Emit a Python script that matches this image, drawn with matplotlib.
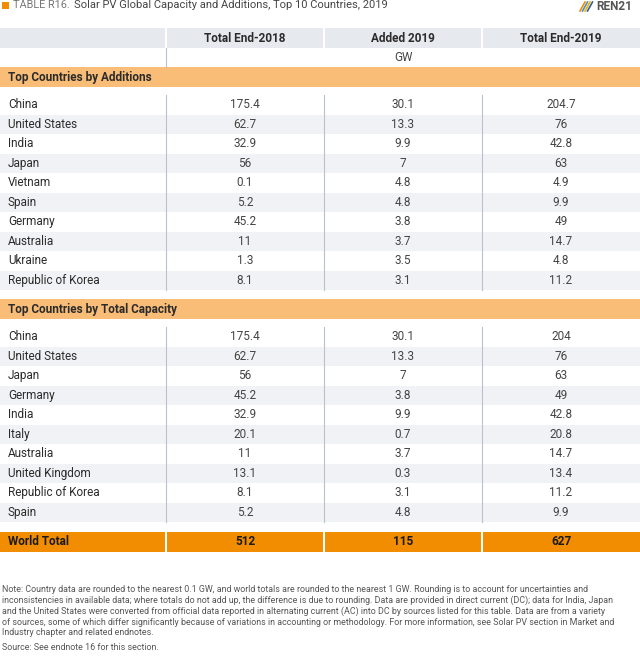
import matplotlib.pyplot as plt
from matplotlib.patches import Rectangle

plt.rcParams["font.family"] = ["Roboto", "DejaVu Sans"]

add_countries = ["China", "United States", "India", "Japan", "Vietnam", "Spain",
                 "Germany", "Australia", "Ukraine", "Republic of Korea"]
add_2018 = ["175.4", "62.7", "32.9", "56", "0.1", "5.2", "45.2", "11", "1.3", "8.1"]
add_added = ["30.1", "13.3", "9.9", "7", "4.8", "4.8", "3.8", "3.7", "3.5", "3.1"]
add_2019 = ["204.7", "76", "42.8", "63", "4.9", "9.9", "49", "14.7", "4.8", "11.2"]

tot_countries = ["China", "United States", "Japan", "Germany", "India", "Italy",
                 "Australia", "United Kingdom", "Republic of Korea", "Spain"]
tot_2018 = ["175.4", "62.7", "56", "45.2", "32.9", "20.1", "11", "13.1", "8.1", "5.2"]
tot_added = ["30.1", "13.3", "7", "3.8", "9.9", "0.7", "3.7", "0.3", "3.1", "4.8"]
tot_2019 = ["204", "76", "63", "49", "42.8", "20.8", "14.7", "13.4", "11.2", "9.9"]

world = ["512", "115", "627"]
columns = ["Total End-2018", "Added 2019", "Total End-2019"]

note = ("Note: Country data are rounded to the nearest 0.1 GW, and world totals are rounded to the nearest 1 GW. Rounding is to account for uncertainties and\n"
        "inconsistencies in available data; where totals do not add up, the difference is due to rounding. Data are provided in direct current (DC); data for India, Japan\n"
        "and the United States were converted from official data reported in alternating current (AC) into DC by sources listed for this table. Data are from a variety\n"
        "of sources, some of which differ significantly because of variations in accounting or methodology. For more information, see Solar PV section in Market and\n"
        "Industry chapter and related endnotes.")

W, H = 640, 656
fig = plt.figure(figsize=(W / 100, H / 100), dpi=100)
ax = fig.add_axes([0, 0, 1, 1])
ax.set_xlim(0, W)
ax.set_ylim(H, 0)
ax.axis("off")

GRAY = "#e6e9ee"
LINE = "#b8c2ce"
TXT = "#2b2b2b"
FS = 8.5
divs = [166, 324, 482]
centers = [245, 403, 561]
RH = 19.5

# title
ax.add_patch(Rectangle((2, 1.5), 7, 7, color="#f28c00", lw=0))
ax.text(13, 5.5, "TABLE R16.", fontsize=7.8, color="#777777", va="center")
ax.text(74, 5.5, "Solar PV Global Capacity and Additions, Top 10 Countries, 2019",
        fontsize=8, color="#444444", va="center")
for i, c in enumerate(["#f28c00", "#4a90c8", "#f2b400", "#2f5f9e"]):
    ax.plot([580 + i * 2.5, 585 + i * 2.5], [11, 2], color=c, lw=1.2)
ax.text(596, 6.5, "REN21", fontsize=8.5, color="#555555", va="center", weight="bold")

# header
ax.add_patch(Rectangle((0, 28), W, 20, color=GRAY, lw=0))
for x in divs:
    ax.plot([x, x], [28, 48], color="white", lw=1.5)
for cx, lab in zip(centers, columns):
    ax.text(cx, 38.5, lab, ha="center", va="center", fontsize=FS, weight="bold", color=TXT)
ax.text(403, 57.5, "GW", ha="center", va="center", fontsize=FS, color="#444444")
ax.plot([166, 166], [48, 67], color=LINE, lw=0.8)


def section(y0, title, names, a, b, c):
    ax.add_patch(Rectangle((0, y0), W, 20, color="#f9bd78", lw=0))
    ax.text(8, y0 + 10, title, va="center", fontsize=FS, weight="bold", color=TXT)
    start = y0 + 28
    for i, name in enumerate(names):
        top = start + i * RH
        if i % 2 == 1:
            ax.add_patch(Rectangle((0, top), W, RH, color=GRAY, lw=0, alpha=0.55))
        yc = top + RH / 2
        ax.text(8, yc, name, va="center", fontsize=FS, color=TXT)
        for cx, v in zip(centers, (a[i], b[i], c[i])):
            ax.text(cx, yc, v, ha="center", va="center", fontsize=FS, color="#444444")
    for x in divs:
        ax.plot([x, x], [start, start + len(names) * RH], color=LINE, lw=0.8)


section(67, "Top Countries by Additions", add_countries, add_2018, add_added, add_2019)
section(299, "Top Countries by Total Capacity", tot_countries, tot_2018, tot_added, tot_2019)

# world total
ax.add_patch(Rectangle((0, 532), W, 19.5, color="#f28c00", lw=0))
for x in divs:
    ax.plot([x, x], [532, 551.5], color="white", lw=1.5)
ax.text(8, 541.5, "World Total", va="center", fontsize=FS, weight="bold", color="#1a1a1a")
for cx, v in zip(centers, world):
    ax.text(cx, 541.5, v, ha="center", va="center", fontsize=FS, weight="bold", color="#1a1a1a")

ax.text(2, 585, note, va="top", fontsize=6.4, color="#555555", linespacing=1.2)
ax.text(2, 648, "Source: See endnote 16 for this section.", va="center", fontsize=6.4, color="#555555")

fig.savefig("out.png", dpi=100)
